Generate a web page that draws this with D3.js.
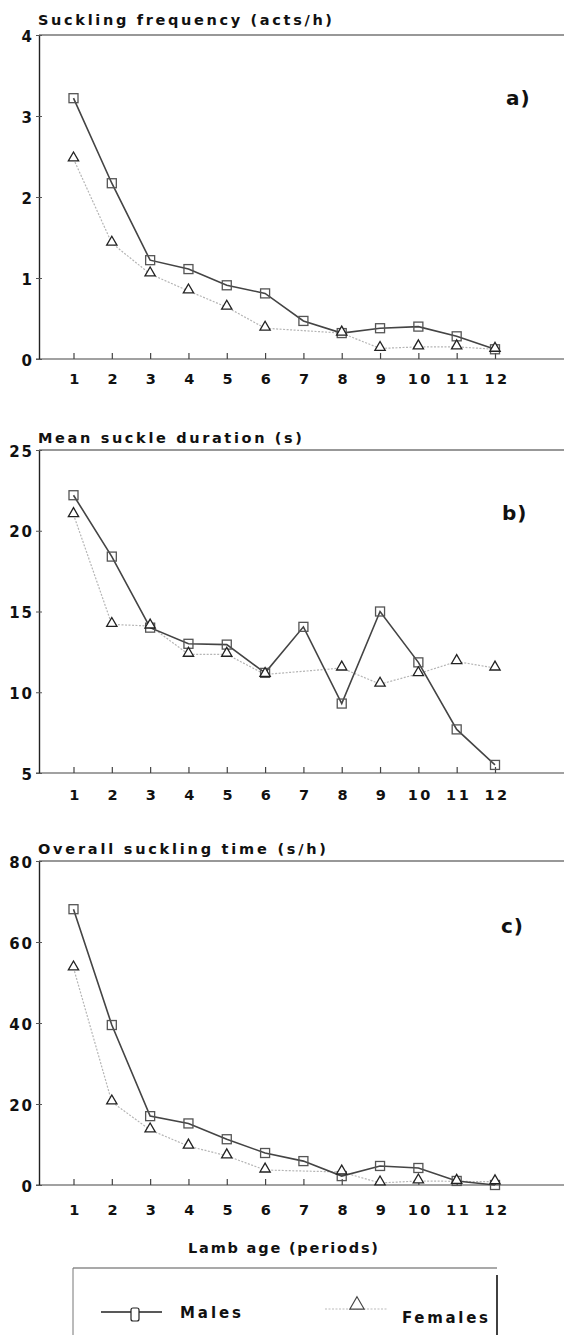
<!DOCTYPE html>
<html>
<head>
<meta charset="utf-8">
<script src="https://cdn.jsdelivr.net/npm/d3@7"></script>
<style>
  body { margin: 0; background: #fff; }
  text { font-family: 'DejaVu Sans', 'Liberation Sans', Arial, sans-serif; font-weight: bold; fill: #111; }
</style>
</head>
<body>
<div id="chart"></div>
<script>
// lamb age periods
let periods = [1, 2, 3, 4, 5, 6, 7, 8, 9, 10, 11, 12];

// a) suckling frequency (acts/h)
let maleFreq = [3.22, 2.17, 1.22, 1.11, 0.91, 0.81, 0.47, 0.32, 0.38, 0.40, 0.28, 0.12];
let femaleFreq = [2.47, 1.43, 1.05, 0.84, 0.64, 0.38, null, 0.32, 0.13, 0.15, 0.15, 0.12];

// b) mean suckle duration (s)
let maleDur = [22.2, 18.4, 14.0, 13.0, 12.95, 11.2, 14.05, 9.3, 15.0, 11.85, 7.7, 5.5];
let femaleDur = [21.0, 14.2, 14.1, 12.35, 12.35, 11.1, null, 11.5, 10.5, 11.15, 11.9, 11.5];

// c) overall suckling time (s/h)
let maleTime = [68.1, 39.5, 17.0, 15.2, 11.3, 7.9, 5.9, 2.2, 4.7, 4.2, 1.0, 0.0];
let femaleTime = [53.6, 20.5, 13.6, 9.6, 7.2, 3.7, null, 3.2, 0.5, 1.0, 0.9, 0.8];

let yTicksA = [0, 1, 2, 3, 4];
let yTicksB = [5, 10, 15, 20, 25];
let yTicksC = [0, 20, 40, 60, 80];

let width = 564;
let height = 1335;

let svg = d3.select('#chart')
    .append('svg')
    .attr('width', width)
    .attr('height', height);

let x = d3.scaleLinear()
    .domain([1, 12])
    .range([73.5, 495]);

let panels = [
    {title: 'Suckling frequency (acts/h)', titleW: 294, tag: 'a)', males: maleFreq, females: femaleFreq,
     ticks: yTicksA, top: 35, bottom: 359, titleY: 25, tagX: 506, tagY: 105, tickLabelY: 374},
    {title: 'Mean suckle duration (s)', titleW: 264, tag: 'b)', males: maleDur, females: femaleDur,
     ticks: yTicksB, top: 450, bottom: 773, titleY: 443, tagX: 502, tagY: 520, tickLabelY: 790},
    {title: 'Overall suckling time (s/h)', titleW: 288, tag: 'c)', males: maleTime, females: femaleTime,
     ticks: yTicksC, top: 861, bottom: 1185, titleY: 854, tagX: 501, tagY: 933, tickLabelY: 1205}
];

let axisX = 39;

panels.forEach(p => {
    let y = d3.scaleLinear()
        .domain(d3.extent(p.ticks))
        .range([p.bottom, p.top]);

    let g = svg.append('g');

    // title above the frame
    g.append('text')
        .attr('x', axisX - 1)
        .attr('y', p.titleY)
        .attr('textLength', p.titleW)
        .attr('lengthAdjust', 'spacing')
        .style('font-size', '14.5px')
        .text(p.title);

    // top border and baseline running off the right edge
    g.append('line')
        .attr('x1', axisX).attr('x2', width)
        .attr('y1', p.top).attr('y2', p.top)
        .attr('stroke', '#333').attr('stroke-width', 1.2);
    g.append('line')
        .attr('x1', axisX - 3).attr('x2', width)
        .attr('y1', p.bottom).attr('y2', p.bottom)
        .attr('stroke', '#444').attr('stroke-width', 1.2);

    // y axis
    let ya = g.append('g')
        .attr('transform', `translate(${axisX},0)`)
        .call(d3.axisLeft(y).tickValues(p.ticks).tickFormat(d3.format('d'))
            .tickSize(4).tickSizeOuter(0).tickPadding(3));
    ya.select('.domain').attr('stroke', '#222').attr('stroke-width', 1.4);
    ya.selectAll('.tick line').attr('stroke', '#555').attr('x2', 3).attr('x1', -3);
    ya.selectAll('.tick text')
        .style('font-size', '15px')
        .style('letter-spacing', '2px')
        .attr('x', -5)
        .attr('dy', '0.4em');

    // x axis, ticks pointing up
    let xa = g.append('g')
        .attr('transform', `translate(0,${p.bottom})`)
        .call(d3.axisBottom(x).tickValues(periods).tickSize(-6).tickSizeOuter(0).tickPadding(0));
    xa.select('.domain').remove();
    xa.selectAll('.tick line').attr('stroke', '#444').attr('stroke-width', 1.2);
    xa.selectAll('.tick text')
        .style('font-size', '14.5px')
        .style('letter-spacing', '2.5px')
        .attr('y', p.tickLabelY - p.bottom)
        .attr('dx', '1.5px')
        .attr('dy', '0.71em');

    // panel tag
    g.append('text')
        .attr('x', p.tagX)
        .attr('y', p.tagY)
        .style('font-size', '20px')
        .style('letter-spacing', '1px')
        .text(p.tag);

    let maleData = periods.map((d, i) => ({period: d, value: p.males[i]})).filter(d => d.value != null);
    let femaleData = periods.map((d, i) => ({period: d, value: p.females[i]})).filter(d => d.value != null);

    let line = d3.line()
        .x(d => x(d.period))
        .y(d => y(d.value));

    // females: light dotted line
    g.append('path')
        .datum(femaleData)
        .attr('d', line)
        .attr('fill', 'none')
        .attr('stroke', '#b5b5b5')
        .attr('stroke-width', 1.2)
        .attr('stroke-dasharray', '2,1.5');

    // males: dark solid line
    g.append('path')
        .datum(maleData)
        .attr('d', line)
        .attr('fill', 'none')
        .attr('stroke', '#444')
        .attr('stroke-width', 1.6);

    g.selectAll('.sq')
        .data(maleData)
        .enter()
        .append('rect')
            .attr('x', d => x(d.period) - 4.5)
            .attr('y', d => y(d.value) - 4.5)
            .attr('width', 9)
            .attr('height', 9)
            .attr('fill', 'none')
            .attr('stroke', '#555')
            .attr('stroke-width', 1.3);

    let tri = d3.symbol().type(d3.symbolTriangle).size(46);
    g.selectAll('.tri')
        .data(femaleData)
        .enter()
        .append('path')
            .attr('d', tri)
            .attr('transform', d => `translate(${x(d.period)},${y(d.value) - 1})`)
            .attr('fill', '#fff')
            .attr('stroke', '#222')
            .attr('stroke-width', 1.3);
});

// x axis title
svg.append('text')
    .attr('x', 188)
    .attr('y', 1253)
    .attr('textLength', 190)
    .attr('lengthAdjust', 'spacing')
    .style('font-size', '14.5px')
    .text('Lamb age (periods)');

// legend box
let lg = svg.append('g');
lg.append('line').attr('x1', 73).attr('x2', 497).attr('y1', 1268).attr('y2', 1268)
    .attr('stroke', '#555').attr('stroke-width', 1.2);
lg.append('line').attr('x1', 73).attr('x2', 73).attr('y1', 1268).attr('y2', height)
    .attr('stroke', '#777').attr('stroke-width', 1);
lg.append('line').attr('x1', 497).attr('x2', 497).attr('y1', 1275).attr('y2', height)
    .attr('stroke', '#111').attr('stroke-width', 1.6);

lg.append('line').attr('x1', 101).attr('x2', 162).attr('y1', 1312).attr('y2', 1312)
    .attr('stroke', '#222').attr('stroke-width', 1.3);
lg.append('rect').attr('x', 131).attr('y', 1308).attr('width', 8).attr('height', 13)
    .attr('rx', 2).attr('fill', '#fff').attr('stroke', '#222').attr('stroke-width', 1.2);
lg.append('text').attr('x', 180).attr('y', 1318)
    .attr('textLength', 61).attr('lengthAdjust', 'spacing')
    .style('font-size', '15px').text('Males');

lg.append('line').attr('x1', 325).attr('x2', 387).attr('y1', 1309).attr('y2', 1309)
    .attr('stroke', '#bbb').attr('stroke-width', 1).attr('stroke-dasharray', '2,1.5');
lg.append('path').attr('d', d3.symbol().type(d3.symbolTriangle).size(90))
    .attr('transform', 'translate(357,1305)')
    .attr('fill', '#fff').attr('stroke', '#444').attr('stroke-width', 1.1);
lg.append('text').attr('x', 402).attr('y', 1323)
    .attr('textLength', 86).attr('lengthAdjust', 'spacing')
    .style('font-size', '15px').text('Females');
</script>
</body>
</html>
